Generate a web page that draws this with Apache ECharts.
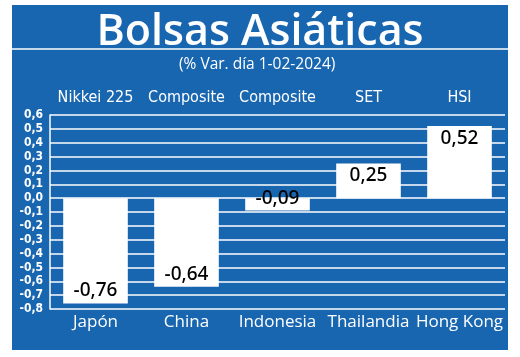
<!DOCTYPE html>
<html><head><meta charset="utf-8">
<script src="https://cdn.jsdelivr.net/npm/echarts@6/dist/echarts.min.js"></script>
<style>html,body{margin:0;padding:0;background:#fff}#c{width:520px;height:357px}</style>
</head><body><div id="c"></div>
<script>
const countries = ['Japón','China','Indonesia','Thailandia','Hong Kong'];
const indices = ['Nikkei 225','Composite','Composite','SET','HSI'];
const values = [-0.76,-0.64,-0.09,0.25,0.52];
const yTicks = {min:-0.8, max:0.6, step:0.1};

const BLUE = '#1865b0';
const COND = "'Liberation Sans Narrow','DejaVu Sans Condensed','Roboto',sans-serif";
const chart = echarts.init(document.getElementById('c'));
const fmt = v => (v<0?'-':'') + Math.abs(v).toFixed(2).replace('.',',');
chart.setOption({
  backgroundColor:'#fff',
  animation:false,
  graphic:[
    {type:'rect', z:-10, shape:{x:12,y:5,width:496,height:345}, style:{fill:BLUE}},
    {type:'line', z:-5, shape:{x1:12,y1:49,x2:508,y2:49}, style:{stroke:'#fff',lineWidth:1.5}}
  ],
  title:[
    {text:'Bolsas Asiáticas', left:'center', top:6,
     textStyle:{color:'#fff',fontSize:43,fontWeight:600,fontFamily:"'Open Sans',sans-serif"}},
    {text:'(% Var. día 1-02-2024)', left:174, top:52,
     textStyle:{color:'#fff',fontSize:15.5,fontWeight:'normal',fontFamily:"'Open Sans',sans-serif"}}
  ],
  grid:{left:50,right:15,top:115,bottom:48},
  xAxis:[
    {type:'category', data:countries, position:'bottom',
     axisLine:{show:false}, axisTick:{show:false},
     axisLabel:{color:'#fff',fontSize:17,margin:5,fontFamily:"'Open Sans',sans-serif",interval:0}},
    {type:'category', data:indices, position:'top',
     axisLine:{show:false}, axisTick:{show:false},
     axisLabel:{color:'#fff',fontSize:16,margin:9,fontWeight:500,fontFamily:COND,interval:0}}
  ],
  yAxis:{type:'value', min:yTicks.min, max:yTicks.max, interval:yTicks.step,
    axisLine:{show:true,lineStyle:{color:'#fff',width:1.5}},
    axisTick:{show:false},
    splitLine:{lineStyle:{color:'#fff',width:1.5}},
    axisLabel:{color:'#fff',fontSize:12,fontWeight:600,margin:7,fontFamily:COND,
      formatter:v=>{const r=Math.round(v*10)/10; return (r<0?'-':'')+Math.abs(r).toFixed(1).replace('.',',');}}
  },
  series:[{
    type:'bar', xAxisIndex:0, barWidth:'71%',
    itemStyle:{color:'#fff'},
    data: values.map(v=>({value:v,
      label:{show:true, position: v<0?'insideBottom':'insideTop', distance:3,
        formatter:p=>fmt(p.value), color:'#000', fontSize:19, fontWeight:500, fontFamily:"'Noto Sans',sans-serif"}}))
  }]
});
</script></body></html>
